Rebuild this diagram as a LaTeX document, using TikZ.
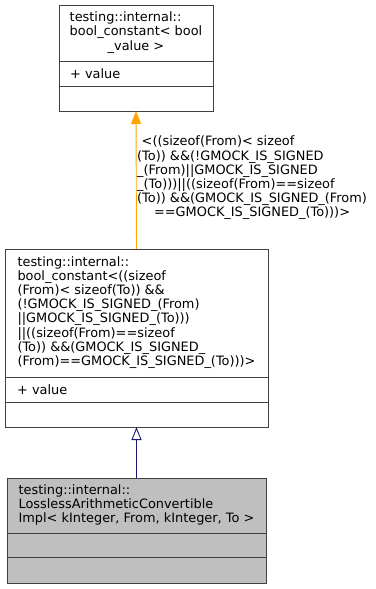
\documentclass[tikz,border=0pt]{standalone}
\usepackage{fontspec}
\setmainfont{DejaVu Sans}
\usetikzlibrary{arrows.meta,positioning}
\definecolor{edgeblue}{HTML}{191970}
\definecolor{edgeorange}{HTML}{FFA500}
\definecolor{classgray}{HTML}{BFBFBF}
\definecolor{boxline}{HTML}{404040}
\newcommand{\dgfont}{\fontsize{12.9}{14.2}\selectfont}
% left-aligned lines, last one centred
\newcommand{\recordtext}[2]{\begin{tabular}{@{}l@{}}#1\\\multicolumn{1}{@{}c@{}}{#2}\end{tabular}}

\begin{document}
\begin{tikzpicture}[x=1pt,y=-1pt,
  field/.style={draw=boxline, line width=0.9pt, fill=white, outer sep=0pt, inner sep=0pt, font=\dgfont},
  attr/.style={align=left, inner xsep=11pt, text width=#1},
  inherit/.style={line width=0.9pt, -{Triangle[length=13pt,width=10pt]}}]
  \useasboundingbox (0,0) rectangle (375,589);

  % bool_constant< bool_value >
  \node[field, minimum width=154, minimum height=56] (topT) at (136,33)
    {\recordtext{testing::internal::\\bool\_constant< bool}{\_value >}};
  \node[field, attr=132pt, minimum height=25, below=0pt of topT] (topA) {+ value};
  \node[field, minimum width=154, minimum height=25, below=0pt of topA] (topE) {};

  % bool_constant< ... > instance
  \node[field, minimum width=263, minimum height=128] (midT) at (136.5,313)
    {\recordtext{testing::internal::\\bool\_constant<((sizeof\\(From)< sizeof(To)) \&\&\\(!GMOCK\_IS\_SIGNED\_(From)\\||GMOCK\_IS\_SIGNED\_(To)))\\||((sizeof(From)==sizeof\\(To)) \&\&(GMOCK\_IS\_SIGNED\_}{(From)==GMOCK\_IS\_SIGNED\_(To)))>}};
  \node[field, attr=239pt, inner xsep=12pt, minimum height=25, below=0pt of midT] (midA) {+ value};
  \node[field, minimum width=263, minimum height=25, below=0pt of midA] (midE) {};

  % LosslessArithmeticConvertibleImpl
  \node[field, fill=classgray, minimum width=259, minimum height=55] (botT) at (136.5,505.5)
    {\recordtext{testing::internal::\\LosslessArithmeticConvertible}{Impl< kInteger, From, kInteger, To >}};
  \node[field, fill=classgray, minimum width=259, minimum height=24.5, below=0pt of botT] (botA) {};
  \node[field, fill=classgray, minimum width=259, minimum height=26, below=0pt of botA] (botE) {};

  % edges
  \draw[inherit, edgeorange] (midT.north) -- (topE.south);
  \draw[inherit, edgeblue, -{Triangle[open,length=13pt,width=10pt]}] (botT.north) -- (midE.south);

  \node[font=\dgfont, inner sep=0pt, anchor=west] (usesLbl) at (137,178.5)
    {\recordtext{\hspace{4.5pt}<((sizeof(From)< sizeof\\(To)) \&\&(!GMOCK\_IS\_SIGNED\\\_(From)||GMOCK\_IS\_SIGNED\\\_(To)))||((sizeof(From)==sizeof\\(To)) \&\&(GMOCK\_IS\_SIGNED\_(From)}{==GMOCK\_IS\_SIGNED\_(To)))>}};
\end{tikzpicture}
\end{document}
